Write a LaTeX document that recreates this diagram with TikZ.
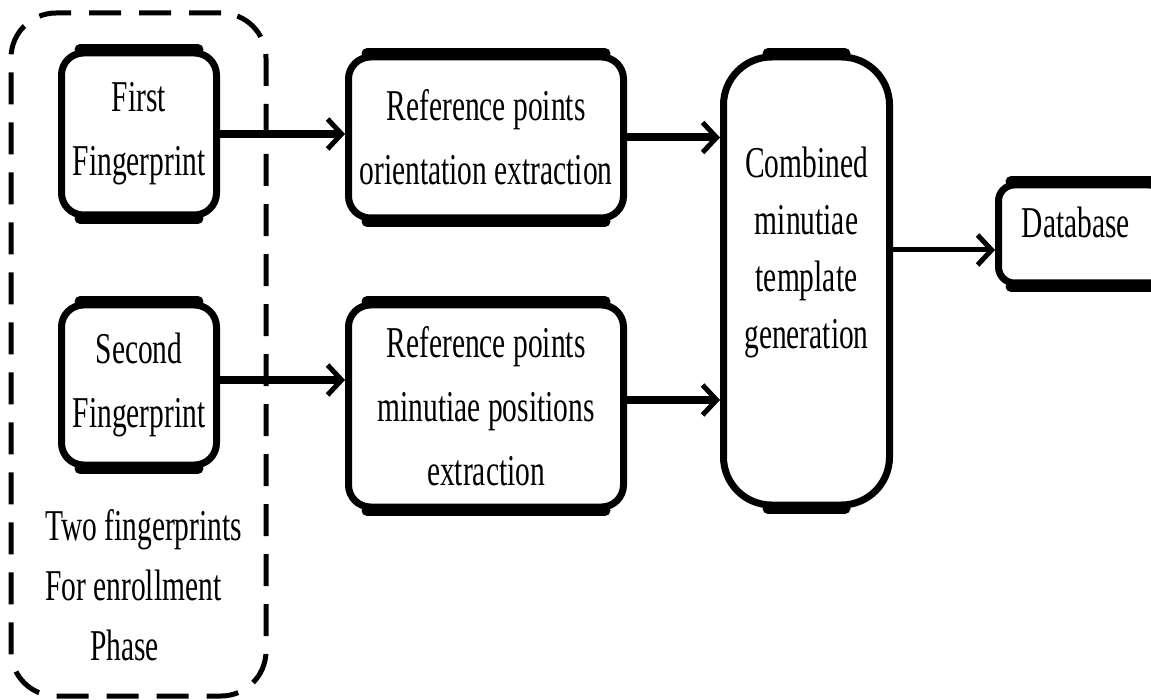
\documentclass[tikz,border=0pt]{standalone}
\usepackage{fontspec}
\setmainfont[FakeStretch=0.67]{Liberation Serif}
\usetikzlibrary{arrows.meta}
\begin{document}
\begin{tikzpicture}[x=1pt,y=-1pt,
  boxnode/.style={draw=black, line width=7pt, fill=white, inner sep=0pt, align=center,
    font=\fontsize{44}{64}\selectfont},
  txtnode/.style={inner sep=0pt, align=center, font=\fontsize{44}{57}\selectfont},
  groupbox/.style={draw=black, line width=5pt, dash pattern=on 32pt off 18pt,
    rounded corners=45pt, inner sep=0pt},
  thickarrow/.style={line width=8pt, -{Straight Barb[length=14pt,width=30pt,line width=5pt]}},
  thinarrow/.style={line width=5pt, -{Straight Barb[length=14pt,width=30pt,line width=5pt]}},
  edgeline/.style={line width=11pt, line cap=round}
]
\useasboundingbox (0,0) rectangle (1151,700);
\clip (0,0) rectangle (1151,700);
\fill[white] (0,0) rectangle (1151,700);

% group (dashed)
\node[groupbox, minimum width=255pt, minimum height=683pt] (group) at (138.5,354.5) {};

% boxes
\node[boxnode, rounded corners=22pt, minimum width=155pt, minimum height=162pt] (first) at (139,134) {First\\Fingerprint};
\node[boxnode, rounded corners=22pt, minimum width=155pt, minimum height=160pt] (second) at (139,385) {Second\\Fingerprint};
\node[boxnode, rounded corners=22pt, minimum width=275pt, minimum height=161pt] (ref1) at (486,137.5) {Reference points\\orientation extraction};
\node[boxnode, rounded corners=22pt, minimum width=275pt, minimum height=202pt] (ref2) at (486,406) {Reference points\\minutiae positions\\extraction};
\node[boxnode, rounded corners=48pt, minimum width=166pt, minimum height=448pt] (combined) at (806.5,281) {};
\node[boxnode, rounded corners=16pt, minimum width=167pt, minimum height=98pt] (database) at (1082,234) {};

% thicker top and bottom edges
\foreach \n/\r in {first/22,second/22,ref1/22,ref2/22,combined/48,database/16}{
  \draw[edgeline] ([xshift=\r pt]\n.north west) -- ([xshift=-\r pt]\n.north east);
  \draw[edgeline] ([xshift=\r pt]\n.south west) -- ([xshift=-\r pt]\n.south east);
}

% texts
\node[txtnode] (combinedtext) at (806.5,252) {Combined\\minutiae\\template\\generation};
\node[txtnode] (databasetext) at (1076,222) {Database};
\node[txtnode, anchor=west, align=left, font=\fontsize{44}{60}\selectfont] (grouptext) at (45,585) {Two fingerprints\\For enrollment\\\hspace*{45pt}Phase};

% connectors
\draw[thickarrow] (first.east) -- (first.east -| ref1.west);
\draw[thickarrow] ([yshift=5pt]second.east) -- ([yshift=5pt]second.east -| ref2.west);
\draw[thickarrow] (ref1.east) -- (ref1.east -| combined.west);
\draw[thickarrow] ([yshift=6pt]ref2.east) -- ([yshift=6pt]ref2.east -| combined.west);
\draw[thinarrow] ([yshift=-16pt]database.west -| combined.east) -- ([yshift=-16pt]database.west);
\end{tikzpicture}
\end{document}
